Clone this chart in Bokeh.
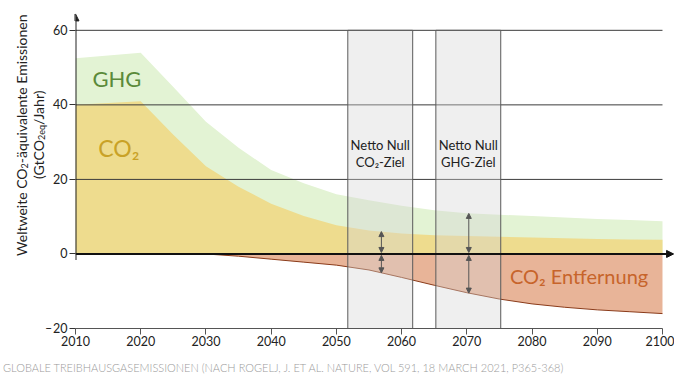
import numpy as np
from bokeh.plotting import figure
from bokeh.layouts import row, column
from bokeh.models import Range1d, Label, Arrow, NormalHead, FixedTicker, Div
from bokeh.embed import file_html
from bokeh.resources import INLINE

# ---------------- data ----------------
years = [2010, 2020, 2025, 2030, 2035, 2040, 2045, 2050, 2055, 2060, 2065, 2070, 2075, 2080, 2085, 2090, 2095, 2100]
ghg   = [52.5, 54.0, 44.8, 35.5, 28.5, 22.5, 19.0, 16.0, 14.4, 12.9, 11.7, 10.9, 10.5, 10.2, 9.8, 9.4, 9.1, 8.8]
co2   = [40.0, 41.0, 32.0, 23.5, 18.0, 13.5, 10.2, 7.7, 6.3, 5.5, 5.0, 4.8, 4.6, 4.4, 4.2, 4.0, 3.9, 3.8]
removal_years = [2030, 2035, 2040, 2045, 2050, 2055, 2060, 2065, 2070, 2075, 2080, 2085, 2090, 2095, 2100]
removal       = [0.0, -0.6, -1.4, -2.2, -3.0, -4.3, -6.3, -8.4, -10.4, -12.1, -13.4, -14.3, -15.0, -15.5, -16.0]

box_left  = [2051.75, 2065.25]
box_right = [2061.7, 2075.2]
box_top = 60
box_bottom = -20
box_line1 = ["Netto Null", "Netto Null"]
box_line2 = ["CO₂-Ziel", "GHG-Ziel"]

arrow_years = [2056.9, 2070.3]
arrow_series = ["co2", "ghg"]

grid_values = [20, 40, 60]
xticks = [2010, 2020, 2030, 2040, 2050, 2060, 2070, 2080, 2090, 2100]
yticks = [-20, 0, 20, 40, 60]
ytick_labels = {-20: "–\u200a20", 0: "0", 20: "20", 40: "40", 60: "60"}

ytitle_line1 = ["Weltweite CO", "2", "-äquivalente Emissionen"]
ytitle_line2 = ["(GtCO", "2eq", "/Jahr)"]
caption = "GLOBALE TREIBHAUSGASEMISSIONEN (NACH ROGELJ, J. ET AL. NATURE, VOL 591, 18 MARCH 2021, P365-368)"

FONT = "Lato"
TXT = "#222222"

W_TITLE = 40
H_MAIN = 352
W_ALL = 674

# ---------------- main figure ----------------
fig = figure(width=W_ALL - W_TITLE, height=H_MAIN, output_backend="svg", toolbar_location=None,
             x_range=Range1d(2010, 2101.84), y_range=Range1d(-20, 64.78),
             min_border_left=75 - W_TITLE, min_border_right=0, min_border_top=12, min_border_bottom=24)
fig.outline_line_color = None
fig.border_fill_color = None
fig.xgrid.visible = False
fig.ygrid.visible = False

fig.xaxis.ticker = FixedTicker(ticks=xticks)
fig.xaxis.bounds = (xticks[0], xticks[-1])
fig.xaxis.axis_line_color = "#555555"
fig.xaxis.axis_line_width = 1
fig.xaxis.major_tick_line_color = "#555555"
fig.xaxis.major_tick_out = 6
fig.xaxis.major_tick_in = 0
fig.xaxis.minor_tick_line_color = None
fig.xaxis.major_label_standoff = 1
fig.xaxis.major_label_text_font = FONT
fig.xaxis.major_label_text_font_size = "12.5px"
fig.xaxis.major_label_text_color = TXT

fig.yaxis.ticker = FixedTicker(ticks=yticks)
fig.yaxis.bounds = (yticks[0], yticks[-1])
fig.yaxis.axis_line_color = None
fig.yaxis.major_tick_line_color = "#333333"
fig.yaxis.major_tick_out = 6
fig.yaxis.major_tick_in = 0
fig.yaxis.minor_tick_line_color = None
fig.yaxis.major_label_standoff = 2
fig.yaxis.major_label_overrides = ytick_labels
fig.yaxis.major_label_text_font = FONT
fig.yaxis.major_label_text_font_size = "12.5px"
fig.yaxis.major_label_text_color = TXT

# areas
fig.varea(x=years, y1=0, y2=ghg, fill_color="#e3f3d4")
fig.varea(x=years, y1=0, y2=co2, fill_color="#eedc8e")
fig.varea(x=removal_years, y1=removal, y2=0, fill_color="#e8b498")
fig.line(removal_years, removal, line_color="#8a3b1a", line_width=1)

# horizontal grid lines
fig.segment(x0=[xticks[0]] * len(grid_values), x1=[xticks[-1]] * len(grid_values),
            y0=grid_values, y1=grid_values, line_color="#3c3c3c", line_width=1)

# boxes
fig.quad(left=box_left, right=box_right, bottom=box_bottom, top=box_top,
         fill_color="#d4d4d4", fill_alpha=0.38, line_color="#5a5a5a", line_width=1)

# zero line with arrow
fig.add_layout(Arrow(x_start=xticks[0], y_start=0, x_end=2101.7, y_end=0,
                     line_color="#111111", line_width=2,
                     end=NormalHead(size=7, fill_color="#111111", line_color="#111111")))
fig.line([removal_years[0], removal_years[-1]], [0, 0], line_color="#7a4510", line_width=2)

# y axis line with arrow
fig.add_layout(Arrow(x_start=xticks[0], y_start=-1.6, x_end=xticks[0], y_end=64.4,
                     line_color="#222222", line_width=2,
                     end=NormalHead(size=7, fill_color="#222222", line_color="#222222")))

# double arrows
for yr, ser in zip(arrow_years, arrow_series):
    top = float(np.interp(yr, years, co2 if ser == "co2" else ghg))
    bot = float(np.interp(yr, removal_years, removal))
    for a, b in [(0.4, top), (-0.4, bot)]:
        fig.add_layout(Arrow(x_start=yr, y_start=a, x_end=yr, y_end=b,
                             line_color="#555555", line_width=1,
                             start=NormalHead(size=5, fill_color="#555555", line_color="#555555"),
                             end=NormalHead(size=5, fill_color="#555555", line_color="#555555")))

# box texts
for l, r, t1, t2 in zip(box_left, box_right, box_line1, box_line2):
    cx = (l + r) / 2
    fig.add_layout(Label(x=cx, y=29.2, text=t1, text_align="center", text_baseline="alphabetic",
                         text_font=FONT, text_font_size="13px", text_color=TXT))
    fig.add_layout(Label(x=cx, y=24.7, text=t2, text_align="center", text_baseline="alphabetic",
                         text_font=FONT, text_font_size="13px", text_color=TXT))

# series labels
fig.add_layout(Label(x=2012.6, y=47.0, text="GHG", text_align="left", text_baseline="alphabetic",
                     text_font=FONT, text_font_size="22px", text_color="#5b8a3a"))
fig.add_layout(Label(x=2013.5, y=28.4, text="CO₂", text_align="left", text_baseline="alphabetic",
                     text_font=FONT, text_font_size="23px", text_color="#c9a227"))
fig.add_layout(Label(x=2076.6, y=-5.8, text="CO₂ Entfernung", text_align="left", text_baseline="alphabetic",
                     text_font=FONT, text_font_size="20px", text_color="#c7642b"))

# ---------------- y title (HTML, rotated) ----------------
SUB = '<sub style="font-size:9px;line-height:0;vertical-align:-3px;">{}</sub>'
line1_html = ytitle_line1[0] + SUB.format(ytitle_line1[1]) + ytitle_line1[2]
line2_html = ytitle_line2[0] + SUB.format(ytitle_line2[1]) + ytitle_line2[2]
ytitle_html = (
    f'<div style="width:{W_TITLE}px;height:{H_MAIN}px;display:flex;align-items:center;justify-content:center;">'
    f'<div style="writing-mode:vertical-rl;transform:translate(9.5px,-40.5px) rotate(180deg);'
    f'font-family:{FONT};font-size:14px;line-height:17px;color:{TXT};text-align:center;white-space:nowrap;">'
    f'{line1_html}<br>{line2_html}</div></div>'
)
tdiv = Div(text=ytitle_html, width=W_TITLE, height=H_MAIN, margin=(0, 0, 0, 0))

# ---------------- caption ----------------
cap_html = (f'<div style="position:relative;top:8px;left:3px;font-family:{FONT};font-size:11px;'
            f'font-weight:300;line-height:12px;color:#9a9a9a;white-space:nowrap;">{caption}</div>')
cdiv = Div(text=cap_html, width=W_ALL, height=362 - H_MAIN, margin=(0, 0, 0, 0))

p = column(row(tdiv, fig), cdiv)

open("out.html", "w").write(file_html(p, INLINE))
